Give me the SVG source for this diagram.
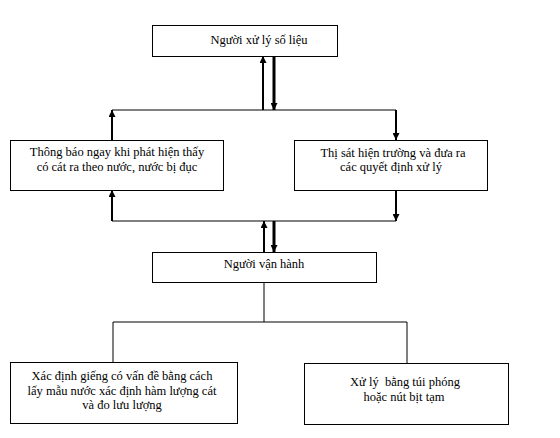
<svg xmlns="http://www.w3.org/2000/svg" width="560" height="438" viewBox="0 0 560 438">
<style>
.box{fill:#fff;stroke:#000;stroke-width:1}
.t{font-family:"Liberation Serif","Times New Roman",serif;font-size:12.5px;fill:#000;text-anchor:middle}
.ln{fill:none;stroke:#000;stroke-width:1}
.ar{fill:none;stroke:#000;stroke-width:2;marker-end:url(#ah)}
.ar3{fill:none;stroke:#000;stroke-width:3;marker-end:url(#ah)}
</style>
<defs>
<marker id="ah" viewBox="0 0 10 10" refX="10" refY="5" markerUnits="userSpaceOnUse" markerWidth="8" markerHeight="7" orient="auto">
<path d="M0,0 L10,5 L0,10 z" fill="#000"/>
</marker>
</defs>
<rect width="560" height="438" fill="#fff"/>
<g id="connectors">
<line class="ar" x1="263" y1="110" x2="263" y2="56"/>
<line class="ar3" x1="274" y1="56" x2="274" y2="110"/>
<line class="ln" x1="112" y1="110" x2="396" y2="110"/>
<line class="ar" x1="112" y1="140" x2="112" y2="110"/>
<line class="ar" x1="396" y1="110" x2="396" y2="140"/>
<line class="ar" x1="112" y1="221" x2="112" y2="190"/>
<line class="ar" x1="396" y1="190" x2="396" y2="221"/>
<line class="ln" x1="112" y1="221" x2="396" y2="221"/>
<line class="ar" x1="264" y1="252" x2="264" y2="221"/>
<line class="ar3" x1="274" y1="221" x2="274" y2="252"/>
<line class="ln" x1="264" y1="282" x2="264" y2="322"/>
<line class="ln" x1="113" y1="322" x2="407" y2="322"/>
<line class="ln" x1="113" y1="322" x2="113" y2="362"/>
<line class="ln" x1="407" y1="322" x2="407" y2="363"/>
</g>
<g id="n1">
<rect class="box" x="152.5" y="25.5" width="185" height="31"/>
<text class="t" x="259" y="44">Người xử lý số liệu</text>
</g>
<g id="n2">
<rect class="box" x="10.5" y="140.5" width="213" height="50"/>
<text class="t" x="117" y="156">Thông báo ngay khi phát hiện thấy</text>
<text class="t" x="117" y="171">có cát ra theo nước, nước bị đục</text>
</g>
<g id="n3">
<rect class="box" x="294.5" y="140.5" width="193" height="50"/>
<text class="t" x="393" y="157">Thị sát hiện trường và đưa ra</text>
<text class="t" x="391" y="171">các quyết định xử lý</text>
</g>
<g id="n4">
<rect class="box" x="152.5" y="252.5" width="224" height="30"/>
<text class="t" x="264" y="268">Người vận hành</text>
</g>
<g id="n5">
<rect class="box" x="10.5" y="362.5" width="227" height="61"/>
<text class="t" x="122" y="380">Xác định giếng có vấn đề bằng cách</text>
<text class="t" x="122" y="395">lấy mẫu nước xác định hàm lượng cát</text>
<text class="t" x="122" y="409">và đo lưu lượng</text>
</g>
<g id="n6">
<rect class="box" x="304.5" y="363.5" width="204" height="61"/>
<text class="t" x="405" y="386" xml:space="preserve">Xử lý  bằng túi phóng</text>
<text class="t" x="404" y="401">hoặc nút bịt tạm</text>
</g>
</svg>
